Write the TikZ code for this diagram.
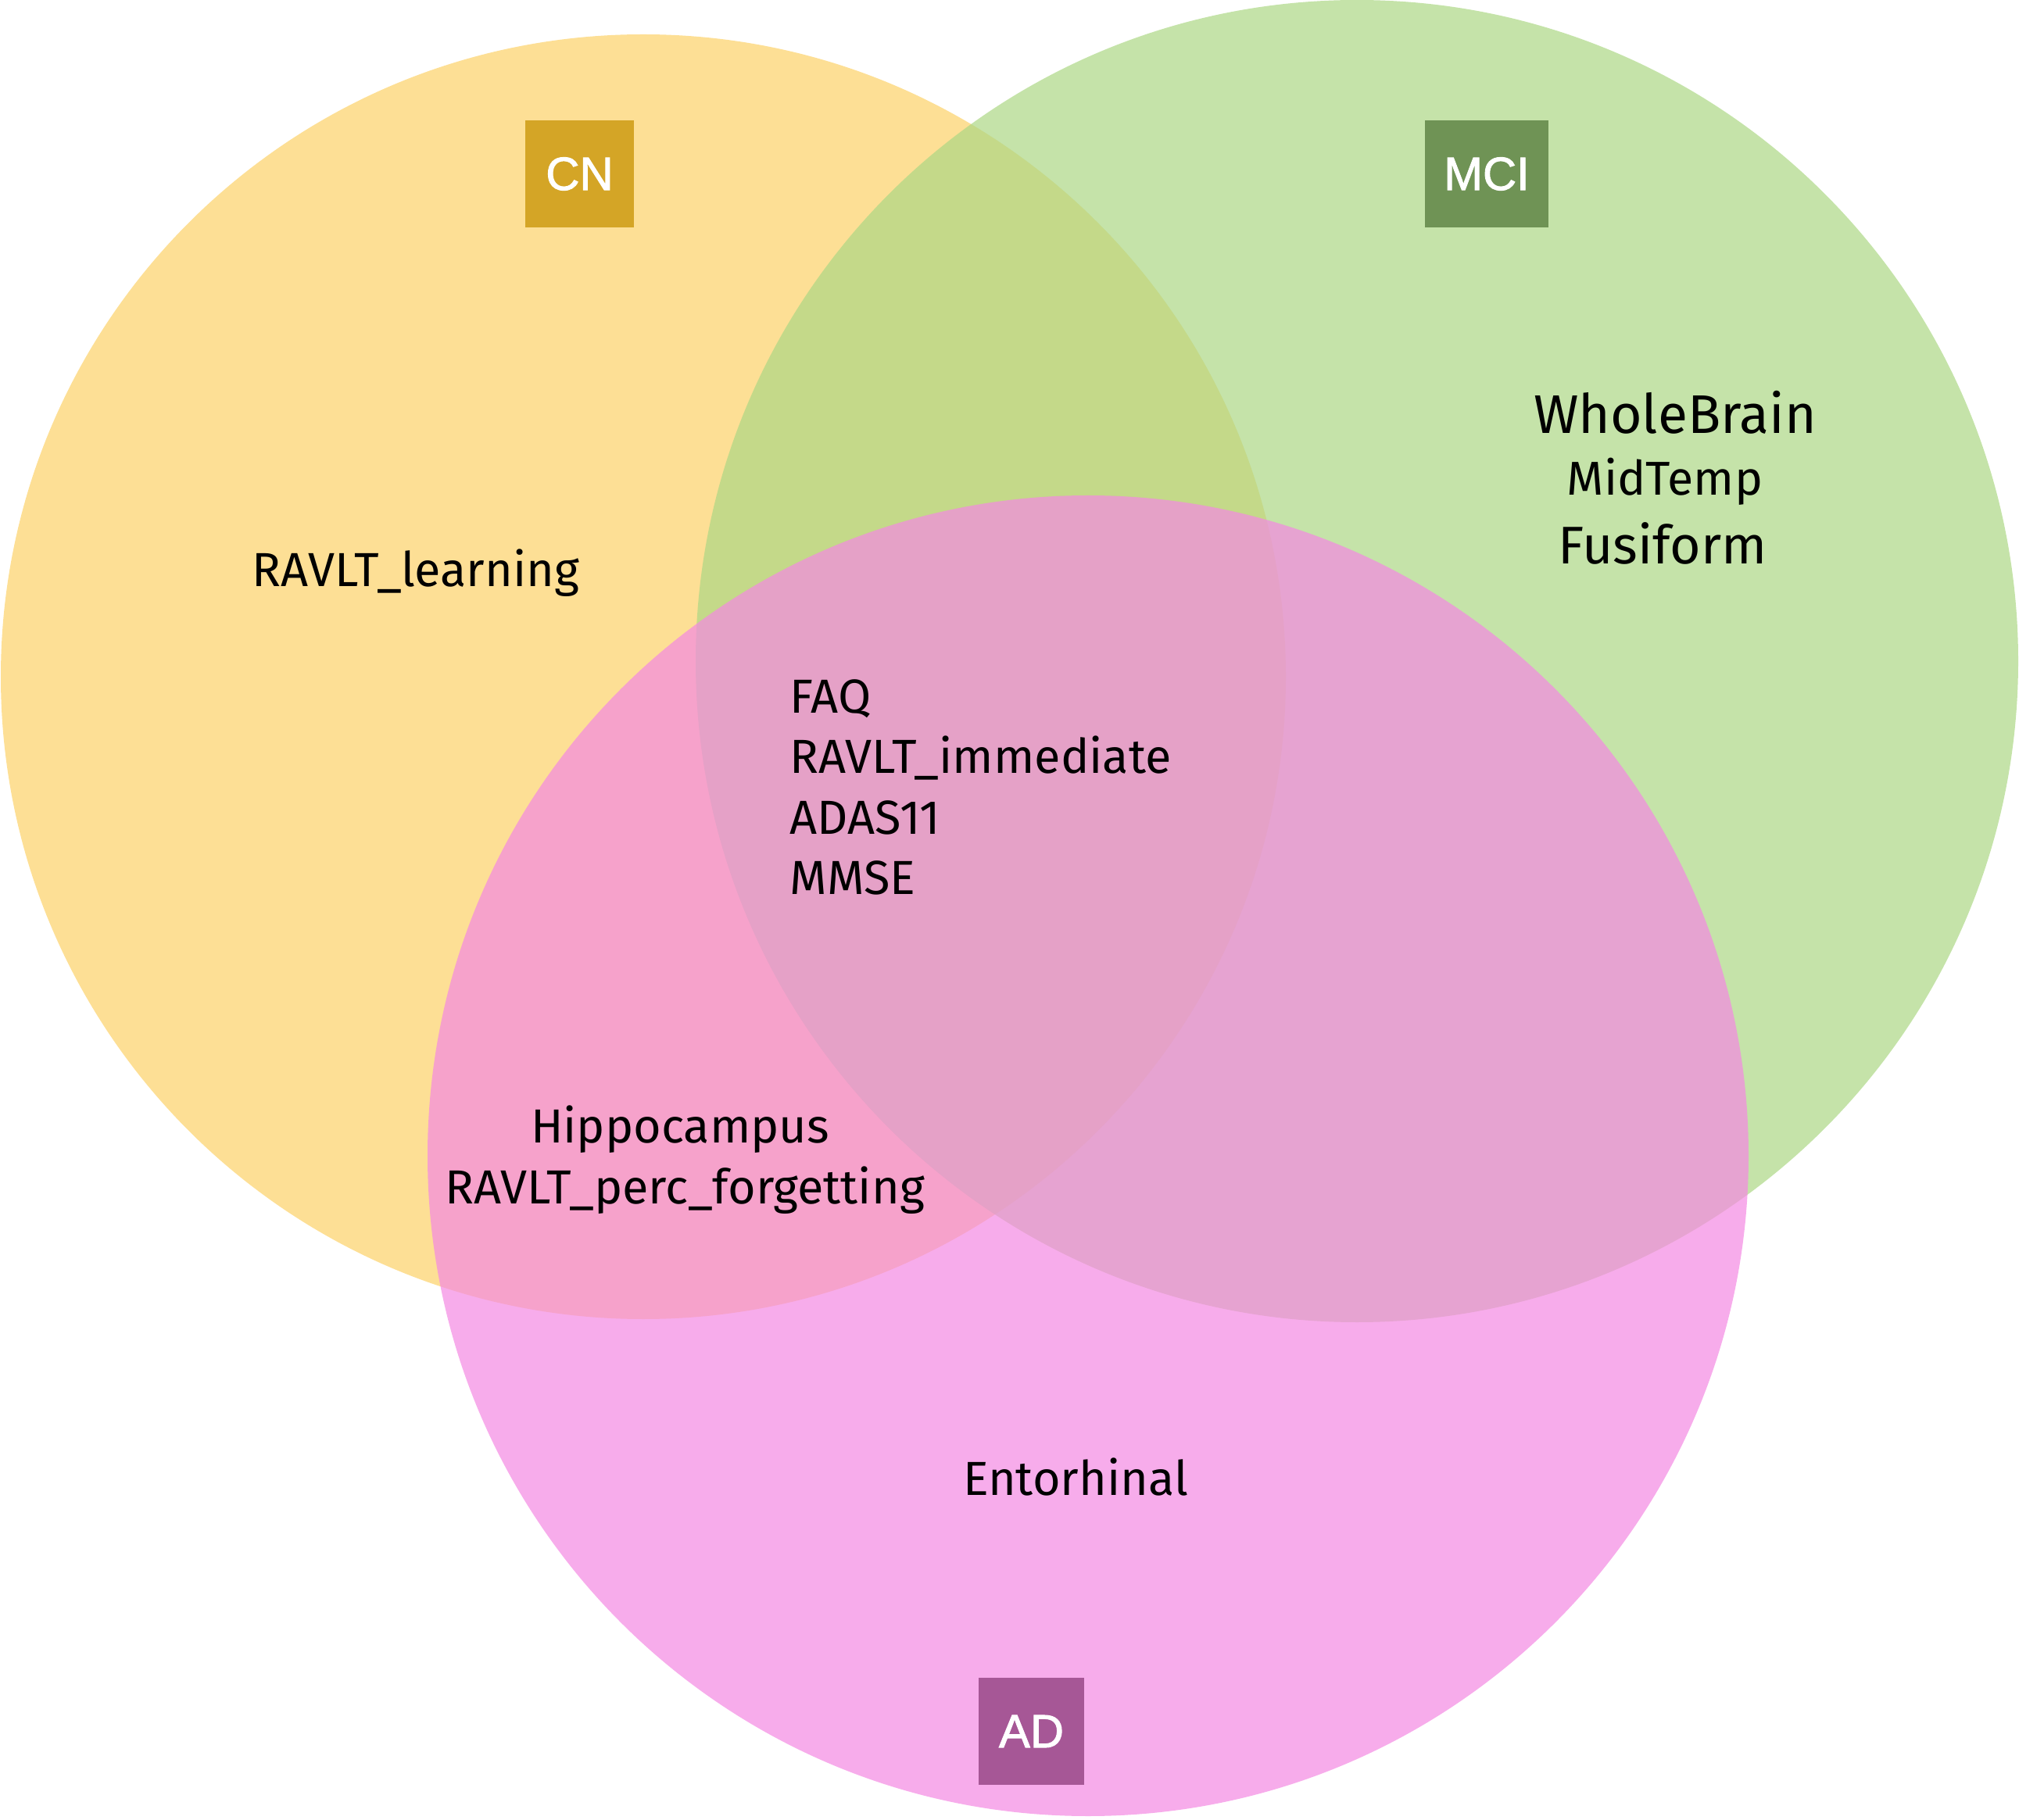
\documentclass[tikz,border=0pt]{standalone}
\usepackage{fontspec}
\setmainfont{Fira Sans}
\newfontfamily\tagfont[FakeBold=1.6]{Liberation Sans}
\usepackage{tikz}

\definecolor{cnfill}{HTML}{FCD168}
\definecolor{mcifill}{HTML}{ACD784}
\definecolor{adfill}{HTML}{F489E2}
\definecolor{cntag}{HTML}{D4A526}
\definecolor{mcitag}{HTML}{6F9355}
\definecolor{adtag}{HTML}{A65796}

\tikzset{
	venn/.style={fill=#1, fill opacity=0.7},
	tagbox/.style={fill=#1, text=white, inner sep=0pt, minimum height=1.37cm,
		font=\tagfont\fontsize{17}{17}\selectfont},
	item/.style={anchor=base, inner sep=0pt, font=\fontsize{17.4}{19}\selectfont},
}

\begin{document}
\begin{tikzpicture}
	\useasboundingbox (0,0) rectangle (25.83,23.28);

	% the three sets
	\fill[venn=cnfill] (8.23,14.62) circle (8.22);
	\fill[venn=mcifill] (17.36,14.82) circle (8.46);
	\fill[venn=adfill] (13.92,8.49) circle (8.45);

	% set labels
	\node[tagbox=cntag, minimum width=1.39cm] (CN) at (7.415,21.055) {CN};
	\node[tagbox=mcitag, minimum width=1.58cm] (MCI) at (19.02,21.055) {MCI};
	\node[tagbox=adtag, minimum width=1.35cm] (AD) at (13.195,1.125) {AD};

	% CN only
	\node[item] (learning) at (5.32,15.77) {RAVLT\_learning};

	% MCI only
	\node[item, font=\fontsize{19.8}{20}\selectfont] (wholebrain) at (21.43,17.73) {WholeBrain};
	\node[item, font=\fontsize{17.3}{18}\selectfont] (midtemp) at (21.30,16.94) {MidTemp};
	\node[item, font=\fontsize{19.3}{19}\selectfont] (fusiform) at (21.27,16.06) {Fusiform};

	% all three
	\node[item, anchor=base west] (faq) at (10.10,14.15) {FAQ};
	\node[item, anchor=base west] (immediate) at (10.10,13.38) {RAVLT\_immediate};
	\node[item, anchor=base west] (adas) at (10.10,12.60) {ADAS11};
	\node[item, anchor=base west] (mmse) at (10.10,11.83) {MMSE};

	% CN and AD
	\node[item] (hippo) at (8.70,8.66) {Hippocampus};
	\node[item] (forgetting) at (8.76,7.88) {RAVLT\_perc\_forgetting};

	% AD only
	\node[item] (entorhinal) at (13.76,4.15) {Entorhinal};
\end{tikzpicture}
\end{document}
